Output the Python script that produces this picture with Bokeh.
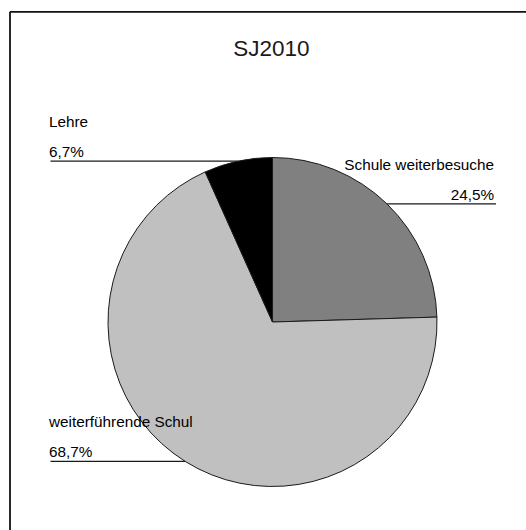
import math

from bokeh.core.properties import value
from bokeh.embed import file_html
from bokeh.models import ColumnDataSource, Range1d
from bokeh.plotting import figure
from bokeh.resources import INLINE

# --- data -------------------------------------------------------------
title = "SJ2010"
categories = ["Schule weiterbesuche", "weiterführende Schul", "Lehre"]
shares = [24.5, 68.7, 6.7]
pct_labels = ["24,5%", "68,7%", "6,7%"]
colors = ["#808080", "#c0c0c0", "#000000"]

# --- layout (pixel-like units, y measured upward) ----------------------
W, H = 526, 530
CX, CY = 272.0, H - 321.5
R = 164.5
FONT = value("Liberation Sans")
LABEL_SIZE = "15.3px"

p = figure(width=W, height=H, output_backend="svg", toolbar_location=None,
           x_range=Range1d(0, W), y_range=Range1d(0, H), min_border=0)
p.axis.visible = False
p.grid.visible = False
p.outline_line_color = None
p.background_fill_color = "white"
p.border_fill_color = "white"

# slices run clockwise from 12 o'clock
total = sum(shares)
starts, ends, mids = [], [], []
acc = 0.0
for s in shares:
    a0 = math.pi / 2 - acc / total * 2 * math.pi
    acc += s
    a1 = math.pi / 2 - acc / total * 2 * math.pi
    starts.append(a1)
    ends.append(a0)
    mids.append((a0 + a1) / 2)

src = ColumnDataSource(dict(start=starts, end=ends, color=colors, cat=categories))
p.wedge(x=CX, y=CY, radius=R, start_angle="start", end_angle="end",
        fill_color="color", line_color="#1a1a1a", line_width=1, source=src)

# leader lines from each slice's middle to its label
label_side = ["right", "left", "left"]
for cat, pct, mid, side in zip(categories, pct_labels, mids, label_side):
    px = CX + R * math.cos(mid)
    py = CY + R * math.sin(mid)
    if side == "right":
        x_end = 495.5
        p.line([px, x_end], [py, py], line_color="#1a1a1a", line_width=1.2)
        p.text(x=[x_end - 2], y=[py + 9], text=[pct], text_font=FONT,
               text_font_size=LABEL_SIZE, text_align="right",
               text_baseline="alphabetic", text_color="#000000")
        p.text(x=[x_end - 2], y=[py + 39.5], text=[cat], text_font=FONT,
               text_font_size=LABEL_SIZE, text_align="right",
               text_baseline="alphabetic", text_color="#000000")
    else:
        x_end = 50
        p.line([x_end, px], [py, py], line_color="#1a1a1a", line_width=1.2)
        p.text(x=[x_end - 1.5], y=[py + 9.5], text=[pct], text_font=FONT,
               text_font_size=LABEL_SIZE, text_align="left",
               text_baseline="alphabetic", text_color="#000000")
        p.text(x=[x_end - 1.5], y=[py + 39.5], text=[cat], text_font=FONT,
               text_font_size=LABEL_SIZE, text_align="left",
               text_baseline="alphabetic", text_color="#000000")

# chart title
p.text(x=[270.8], y=[H - 48.3], text=[title], text_font=FONT,
       text_font_size="22.5px", text_align="center", text_baseline="alphabetic",
       text_color="#1a1a1a")

# frame edges (top and left)
p.line([9.5, W], [H - 11.3, H - 11.3], line_color="#111111", line_width=1.8)
p.line([9.5, 9.5], [H - 11.3, 0], line_color="#111111", line_width=1.8)

open("out.html", "w").write(file_html(p, INLINE))
